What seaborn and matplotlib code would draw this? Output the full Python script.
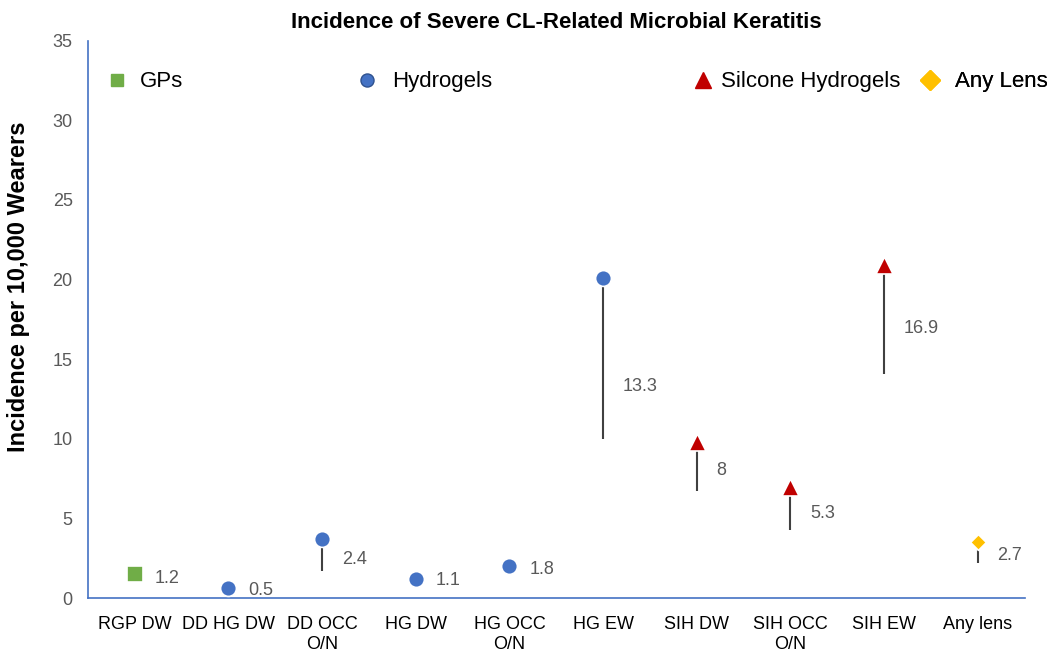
import numpy as np
import pandas as pd
import matplotlib
matplotlib.use("Agg")
import matplotlib.pyplot as plt
from matplotlib.lines import Line2D
import seaborn as sns

# ---- data ----
categories = ["RGP DW", "DD HG DW", "DD OCC\nO/N", "HG DW", "HG OCC\nO/N",
              "HG EW", "SIH DW", "SIH OCC\nO/N", "SIH EW", "Any lens"]
groups = ["GPs", "Hydrogels", "Hydrogels", "Hydrogels", "Hydrogels",
          "Hydrogels", "Silcone Hydrogels", "Silcone Hydrogels", "Silcone Hydrogels", "Any Lens"]
upper = [1.5, 0.6, 3.7, 1.2, 2.0, 20.1, 9.8, 7.0, 20.9, 3.5]
lower = [1.1, 0.4, 1.7, 1.0, 1.7, 10.0, 6.7, 4.3, 14.1, 2.2]
estimate = [1.2, 0.5, 2.4, 1.1, 1.8, 13.3, 8, 5.3, 16.9, 2.7]

group_order = ["GPs", "Hydrogels", "Silcone Hydrogels", "Any Lens"]
colors = {"GPs": "#70AD47", "Hydrogels": "#4472C4",
          "Silcone Hydrogels": "#C00000", "Any Lens": "#FFC000"}
markers = {"GPs": "s", "Hydrogels": "o", "Silcone Hydrogels": "^", "Any Lens": "D"}
sizes = {"GPs": 130, "Hydrogels": 130, "Silcone Hydrogels": 150, "Any Lens": 65}

df = pd.DataFrame({"cat": categories, "group": groups, "upper": upper,
                   "lower": lower, "estimate": estimate})
df["x"] = np.arange(len(df))

sns.set_style("white")
plt.rcParams["font.family"] = ["Liberation Sans", "DejaVu Sans"]

fig = plt.figure(figsize=(10.5, 6.51), dpi=100)
ax = fig.add_axes([0.0838, 0.0814, 0.892, 0.856])

# high-low lines
ax.vlines(df["x"], df["lower"], df["upper"], color="#404040", lw=1.5, zorder=1)

# markers at the upper value
for g in group_order:
    sub = df[df["group"] == g]
    sns.scatterplot(data=sub, x="x", y="upper", marker=markers[g], color=colors[g],
                    s=sizes[g], edgecolor="white", linewidth=1.2, ax=ax, zorder=3,
                    legend=False)

# estimate labels
for xi, est in zip(df["x"], df["estimate"]):
    ax.text(xi + 0.21, est, f"{est:g}", va="center", ha="left",
            fontsize=13, color="#595959")

ax.set_xlim(-0.5, len(categories) - 0.5)
ax.set_ylim(0, 35)
ax.set_yticks(np.arange(0, 36, 5))
ax.set_xticks(df["x"])
ax.set_xticklabels(categories, fontsize=13, color="black", multialignment="center")
ax.tick_params(axis="y", labelsize=13, labelcolor="#595959", length=0, pad=11)
ax.tick_params(axis="x", length=0, pad=13)
ax.set_xlabel("")
ax.set_ylabel("Incidence per 10,000 Wearers", fontsize=17, fontweight="bold", color="black")
ax.yaxis.set_label_coords(-0.0615, 0.558)
ax.set_title("Incidence of Severe CL-Related Microbial Keratitis",
             fontsize=16, fontweight="bold", color="black", pad=9)

for side in ["top", "right"]:
    ax.spines[side].set_visible(False)
for side in ["left", "bottom"]:
    ax.spines[side].set_color("#4472C4")
    ax.spines[side].set_linewidth(1.2)

# separate legend entries spread along the top
legend_x = {"GPs": 0.0192, "Hydrogels": 0.286, "Silcone Hydrogels": 0.6446, "Any Lens": 0.887}
legend_pad = {"GPs": 0.54, "Hydrogels": 0.63, "Silcone Hydrogels": 0.31, "Any Lens": 0.63}
legend_ms = {"GPs": 9.2, "Hydrogels": 9.4, "Silcone Hydrogels": 12, "Any Lens": 10}
for g in group_order:
    edge = "#2F528F" if g == "Hydrogels" else colors[g]
    h = Line2D([], [], marker=markers[g], color=colors[g], linestyle="none",
               markersize=legend_ms[g], markeredgecolor=edge)
    leg = ax.legend([h], [g], loc="center left",
                    bbox_to_anchor=(legend_x[g], 0.926), frameon=False,
                    fontsize=16, handletextpad=legend_pad[g], handlelength=1.0,
                    borderpad=0, borderaxespad=0)
    for t in leg.get_texts():
        t.set_color("black")
    ax.add_artist(leg)

fig.savefig("out.png", dpi=100)
